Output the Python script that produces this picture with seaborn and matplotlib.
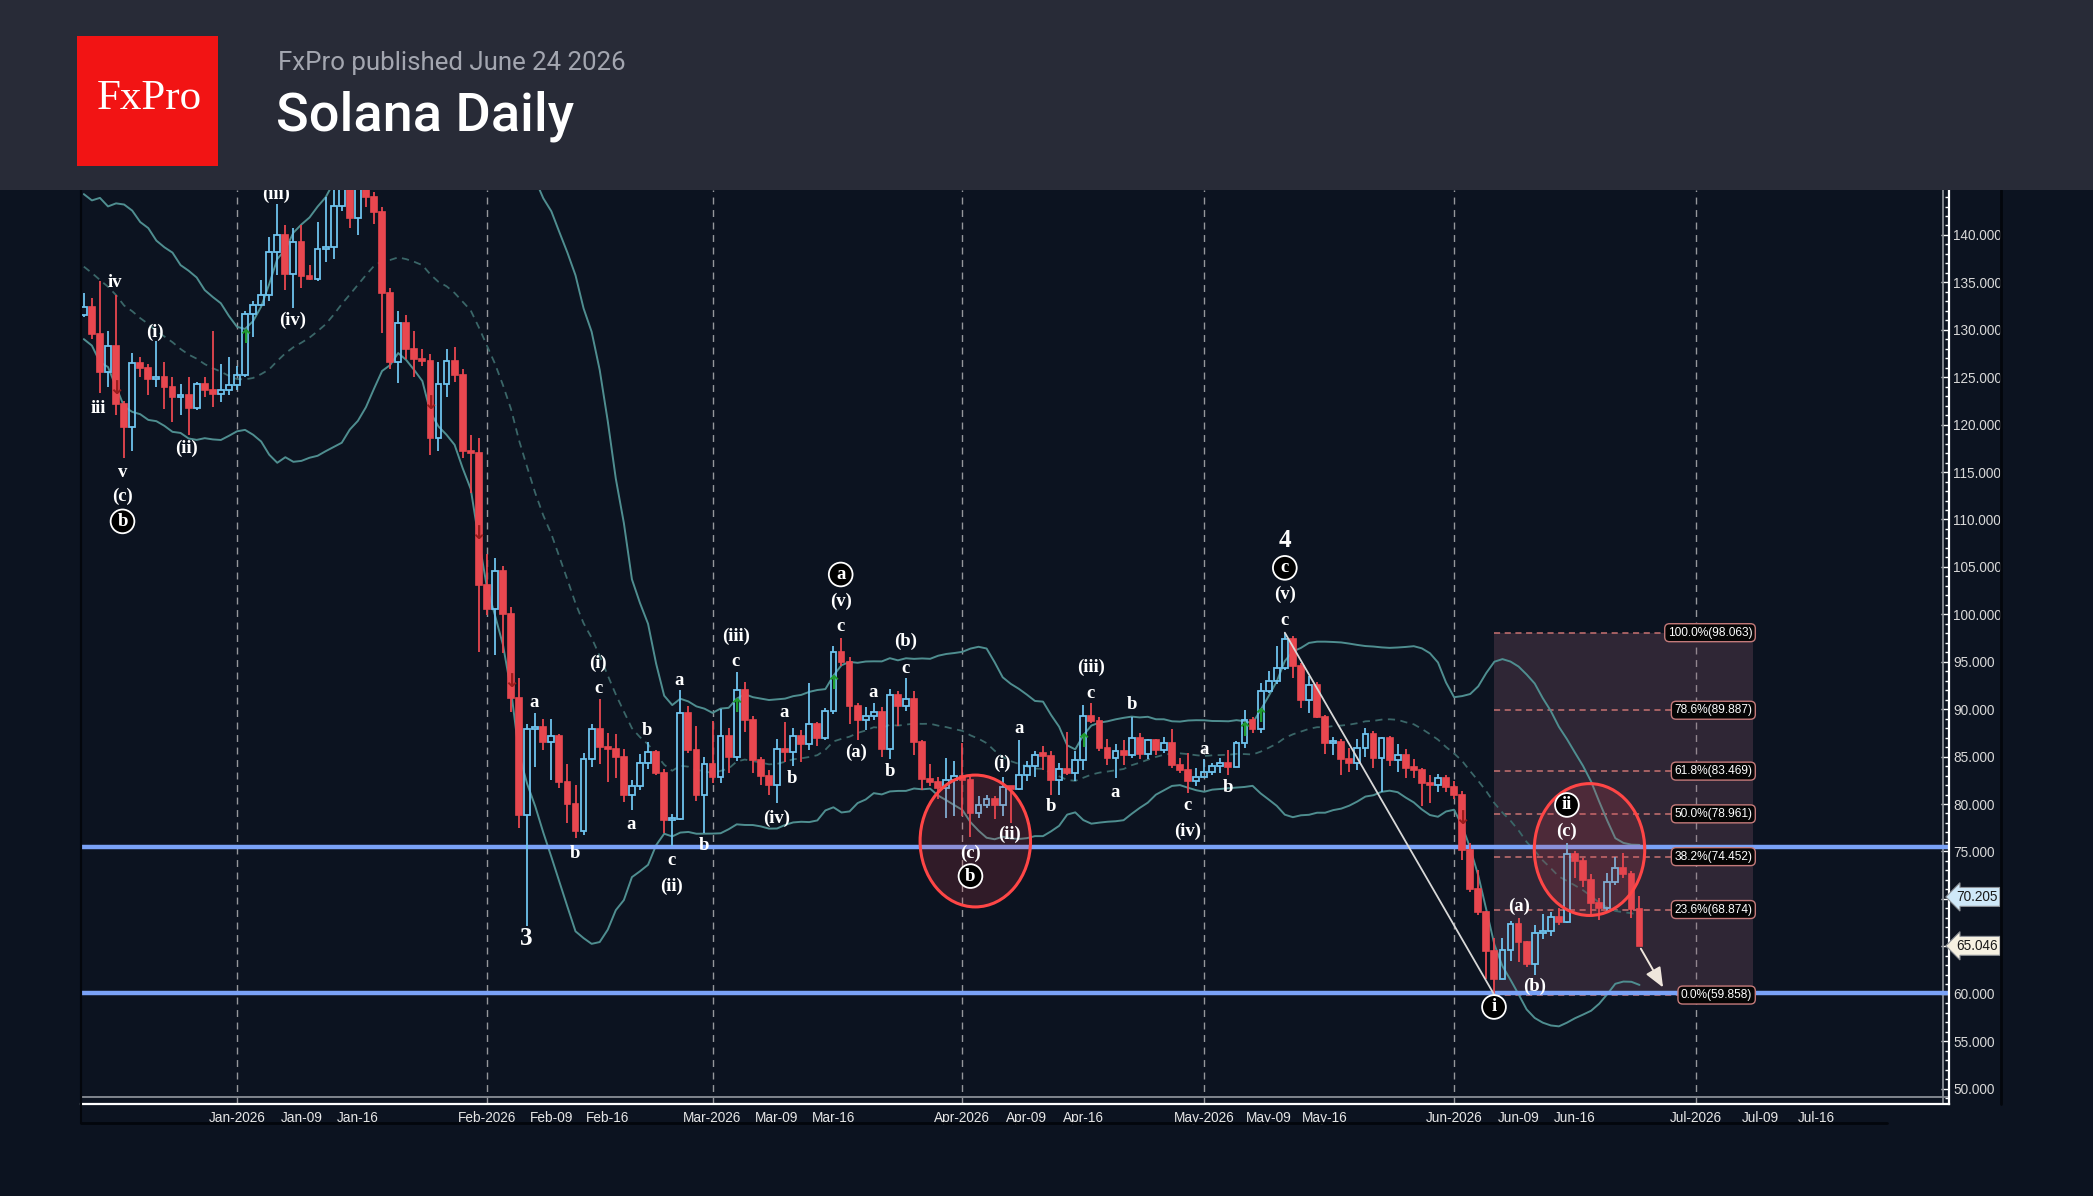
import numpy as np
import pandas as pd
import matplotlib
matplotlib.use("Agg")
import matplotlib.pyplot as plt
import matplotlib.dates as mdates
import matplotlib.transforms as mtransforms
from matplotlib.patches import Ellipse, Rectangle
from matplotlib.lines import Line2D
import seaborn as sns

# daily candles, 2025-12-13 .. 2026-06-24
first_day = "2025-12-13"

opens = [131.6, 132.4, 129.6, 125.5, 128.3, 122.2, 119.8, 126.5, 126.0, 124.8,
         125.0, 124.0, 122.9, 123.1, 121.8, 124.3, 123.6, 123.2, 123.7, 124.2,
         125.2, 131.7, 132.6, 133.7, 138.2, 140.0, 135.9, 139.3, 135.7, 135.4,
         138.5, 138.7, 143.1, 145.5, 141.8, 145.0, 144.0, 142.4, 133.9, 126.6,
         130.7, 128.0, 126.9, 126.7, 118.6, 124.3, 126.7, 125.2, 117.2, 117.0,
         103.1, 100.6, 104.6, 100.0, 91.2, 78.8, 87.9, 88.1, 86.5, 87.2,
         82.3, 80.0, 77.2, 84.7, 87.9, 86.0, 85.8, 85.0, 81.0, 81.9,
         84.3, 85.5, 83.3, 78.3, 78.4, 89.6, 85.7, 81.0, 84.2, 82.8,
         87.2, 85.0, 92.0, 88.9, 84.6, 83.0, 82.0, 85.8, 85.5, 87.2,
         86.3, 88.4, 87.0, 89.8, 96.0, 95.0, 90.3, 88.9, 89.3, 89.7,
         85.8, 91.5, 90.3, 91.1, 86.5, 82.6, 82.3, 81.7, 82.5, 83.0,
         82.5, 79.0, 79.9, 80.5, 79.9, 81.8, 81.6, 83.1, 84.0, 85.2,
         85.1, 82.5, 83.7, 83.3, 84.6, 89.3, 88.8, 85.9, 84.8, 85.6,
         85.2, 87.0, 85.3, 86.7, 85.7, 86.4, 84.1, 83.6, 82.4, 82.9,
         83.4, 84.0, 84.3, 83.9, 86.4, 88.9, 87.9, 91.9, 93.0, 94.3,
         97.4, 94.5, 91.0, 92.5, 89.2, 86.4, 86.5, 84.7, 84.3, 85.9,
         87.4, 84.9, 87.0, 84.6, 85.2, 83.8, 83.6, 82.2, 82.0, 82.7,
         81.8, 80.9, 75.2, 71.0, 68.6, 64.5, 61.6, 64.6, 67.3, 65.4,
         63.1, 66.4, 66.6, 68.1, 67.6, 74.7, 74.0, 72.0, 69.6, 69.0,
         71.8, 73.3, 72.6, 68.9]
highs = [133.9, 133.4, 135.1, 129.9, 133.7, 122.5, 127.6, 127.1, 126.4, 128.8,
         126.6, 125.0, 124.3, 125.0, 124.5, 125.0, 129.9, 126.4, 127.1, 126.2,
         132.0, 133.0, 135.3, 139.8, 143.3, 141.1, 140.7, 141.0, 136.8, 141.4,
         144.0, 145.0, 147.0, 147.0, 147.5, 146.0, 144.5, 142.9, 134.4, 132.0,
         131.6, 129.9, 128.0, 127.4, 126.6, 128.0, 128.2, 125.9, 118.9, 118.6,
         106.4, 105.9, 105.1, 100.8, 93.3, 88.4, 89.6, 89.0, 89.0, 87.4,
         84.2, 82.0, 85.4, 88.4, 91.1, 87.5, 87.4, 85.8, 82.5, 85.3,
         86.5, 85.7, 83.7, 78.9, 92.0, 90.3, 88.2, 85.0, 88.8, 90.0,
         88.0, 93.9, 92.9, 89.3, 85.0, 83.6, 86.9, 88.6, 88.0, 87.8,
         92.8, 88.6, 90.1, 96.7, 97.5, 95.5, 90.7, 90.2, 90.6, 90.2,
         92.1, 91.9, 93.3, 91.9, 86.8, 84.2, 82.9, 84.9, 84.5, 86.4,
         82.9, 80.8, 81.0, 80.8, 82.9, 81.9, 86.8, 84.5, 85.6, 86.1,
         85.6, 84.3, 87.6, 85.6, 90.4, 90.6, 89.2, 86.9, 86.3, 86.8,
         89.2, 87.5, 86.9, 86.9, 87.1, 87.9, 84.8, 85.4, 83.8, 84.7,
         84.3, 84.8, 85.7, 86.6, 89.9, 89.2, 92.8, 94.0, 96.7, 98.063,
         97.7, 94.9, 93.5, 92.9, 89.4, 87.1, 86.9, 85.9, 86.9, 88.0,
         87.7, 87.1, 87.2, 86.3, 85.8, 84.7, 83.8, 83.1, 83.2, 83.1,
         82.4, 81.4, 75.9, 73.0, 68.7, 65.9, 65.9, 67.7, 68.0, 65.6,
         67.2, 68.4, 68.6, 69.0, 75.9, 75.0, 74.3, 72.6, 70.1, 72.7,
         74.4, 74.8, 72.9, 70.3]
lows = [131.3, 129.0, 123.3, 124.0, 121.0, 116.5, 117.2, 125.0, 123.1, 124.0,
        121.7, 120.3, 121.0, 118.9, 121.5, 122.9, 121.9, 122.4, 123.1, 123.6,
        125.0, 129.2, 132.5, 133.0, 135.8, 134.2, 132.3, 134.4, 135.3, 135.1,
        137.2, 137.5, 142.5, 140.7, 140.0, 143.0, 141.2, 129.7, 125.9, 124.4,
        126.9, 125.0, 126.2, 116.8, 117.2, 122.9, 124.5, 116.5, 112.8, 96.0,
        99.9, 95.7, 95.9, 89.7, 77.5, 67.1, 83.9, 85.7, 82.5, 81.7,
        78.0, 76.4, 76.7, 83.9, 84.2, 82.3, 82.7, 80.2, 79.4, 81.5,
        83.7, 83.1, 76.9, 75.6, 78.3, 85.4, 80.3, 76.9, 82.2, 82.2,
        83.3, 84.5, 87.6, 83.3, 82.0, 80.9, 80.1, 84.4, 84.0, 84.4,
        85.7, 86.1, 86.8, 89.5, 94.6, 88.4, 86.8, 87.8, 88.9, 85.0,
        84.7, 88.2, 89.8, 85.2, 81.5, 81.9, 80.5, 78.5, 78.7, 78.7,
        76.5, 78.5, 79.6, 78.4, 78.7, 78.0, 81.5, 82.4, 82.9, 83.6,
        81.0, 81.0, 83.1, 82.4, 83.6, 88.5, 85.6, 84.1, 82.7, 84.1,
        84.8, 84.7, 84.7, 85.2, 85.4, 83.8, 83.3, 81.2, 81.9, 82.9,
        83.1, 83.3, 83.1, 83.9, 85.9, 87.5, 87.5, 91.7, 92.7, 94.1,
        93.3, 90.1, 89.6, 89.1, 85.3, 85.2, 83.1, 83.4, 83.6, 85.0,
        83.8, 81.3, 84.0, 83.4, 82.7, 82.7, 79.8, 80.1, 81.3, 81.3,
        80.5, 74.1, 70.7, 68.3, 61.6, 59.858, 61.5, 63.4, 63.3, 62.8,
        62.0, 65.8, 66.1, 67.2, 67.5, 72.2, 71.2, 68.2, 67.8, 68.7,
        71.5, 72.2, 68.0, 65.0]
closes = [132.4, 129.6, 125.5, 128.3, 122.2, 119.8, 126.5, 126.0, 124.8, 125.0,
          124.0, 122.9, 123.1, 121.8, 124.3, 123.6, 123.2, 123.7, 124.2, 125.2,
          131.7, 132.6, 133.7, 138.2, 140.0, 135.9, 139.3, 135.7, 135.4, 138.5,
          138.7, 143.1, 145.5, 141.8, 145.0, 144.0, 142.4, 133.9, 126.6, 130.7,
          128.0, 126.9, 126.7, 118.6, 124.3, 126.7, 125.2, 117.2, 117.0, 103.1,
          100.6, 104.6, 100.0, 91.2, 78.8, 87.9, 88.1, 86.5, 87.2, 82.3,
          80.0, 77.2, 84.7, 87.9, 86.0, 85.8, 85.0, 81.0, 81.9, 84.3,
          85.5, 83.3, 78.3, 78.4, 89.6, 85.7, 81.0, 84.2, 82.8, 87.2,
          85.0, 92.0, 88.9, 84.6, 83.0, 82.0, 85.8, 85.5, 87.2, 86.3,
          88.4, 87.0, 89.8, 96.0, 95.0, 90.3, 88.9, 89.3, 89.7, 85.8,
          91.5, 90.3, 91.1, 86.5, 82.6, 82.3, 81.7, 82.5, 83.0, 82.5,
          79.0, 79.9, 80.5, 79.9, 81.8, 81.6, 83.1, 84.0, 85.2, 85.1,
          82.5, 83.7, 83.3, 84.6, 89.3, 88.8, 85.9, 84.8, 85.6, 85.2,
          87.0, 85.3, 86.7, 85.7, 86.4, 84.1, 83.6, 82.4, 82.9, 83.4,
          84.0, 84.3, 83.9, 86.4, 88.9, 87.9, 91.9, 93.0, 94.3, 97.4,
          94.5, 91.0, 92.5, 89.2, 86.4, 86.5, 84.7, 84.3, 85.9, 87.4,
          84.9, 87.0, 84.6, 85.2, 83.8, 83.6, 82.2, 82.0, 82.7, 81.8,
          80.9, 75.2, 71.0, 68.6, 64.5, 61.6, 64.6, 67.3, 65.4, 63.1,
          66.4, 66.6, 68.1, 67.6, 74.7, 74.0, 72.0, 69.6, 69.0, 71.8,
          73.3, 72.6, 68.9, 65.046]

# closes of the 20 days before the first visible candle, only used to seed the bands
warmup_closes = [141.5, 143.0, 140.2, 142.6, 139.8, 141.9, 138.4, 140.6, 137.2, 139.5,
                 136.0, 134.8, 137.4, 133.6, 132.9, 135.1, 131.8, 130.9, 133.2, 131.9]

support_levels = [75.5, 60.05]
fib_names = ["100.0%", "78.6%", "61.8%", "50.0%", "38.2%", "23.6%", "0.0%"]
fib_levels = [98.063, 89.887, 83.469, 78.961, 74.452, 68.874, 59.858]
price_marks = [70.205, 65.046]

# wave count: (text, day from first candle, price, kind)
wave_labels = [
    ("iii", 1.8, 121.7, ""), ("iv", 3.8, 135.0, ""), ("v", 4.8, 115.0, ""),
    ("(c)", 4.8, 112.4, ""), ("b", 4.8, 109.8, "o"), ("(i)", 8.8, 129.7, ""),
    ("(ii)", 12.8, 117.5, ""), ("(iii)", 23.8, 144.3, ""), ("(iv)", 25.9, 131.0, ""),
    ("3", 54.9, 65.8, "big"), ("a", 55.9, 90.7, ""), ("b", 60.9, 74.8, ""),
    ("c", 63.8, 92.2, ""), ("(i)", 63.8, 94.8, ""), ("a", 67.9, 77.8, ""),
    ("b", 69.9, 87.7, ""), ("a", 73.9, 93.0, ""), ("c", 72.9, 74.0, ""),
    ("(ii)", 72.9, 71.3, ""), ("b", 76.9, 75.6, ""), ("c", 80.9, 95.0, ""),
    ("(iii)", 80.9, 97.7, ""), ("a", 86.9, 89.7, ""), ("b", 87.9, 82.7, ""),
    ("(iv)", 85.9, 78.5, ""), ("c", 93.9, 98.7, ""), ("(v)", 93.9, 101.4, ""),
    ("a", 93.9, 104.2, "o"), ("(a)", 95.8, 85.4, ""), ("a", 97.9, 91.75, ""),
    ("b", 100.0, 83.45, ""), ("c", 102.0, 94.3, ""), ("(b)", 102.0, 97.1, ""),
    ("(c)", 110.0, 74.8, ""), ("b", 110.0, 72.4, "o"), ("(i)", 113.9, 84.3, ""),
    ("(ii)", 114.9, 76.8, ""), ("a", 116.0, 88.0, ""), ("b", 120.0, 79.7, ""),
    ("c", 124.9, 91.7, ""), ("(iii)", 124.9, 94.4, ""), ("a", 128.0, 81.2, ""),
    ("b", 130.0, 90.5, ""), ("c", 136.9, 79.8, ""), ("(iv)", 136.9, 77.1, ""),
    ("a", 139.0, 85.8, ""), ("b", 142.0, 81.7, ""), ("c", 149.0, 99.4, ""),
    ("(v)", 149.0, 102.1, ""), ("c", 149.0, 104.9, "o"), ("4", 149.0, 107.8, "big"),
    ("i", 174.95, 58.6, "o"), ("(a)", 178.0, 69.2, ""), ("(b)", 180.0, 60.8, ""),
    ("(c)", 184.0, 77.1, ""), ("ii", 184.0, 79.9, "o"),
]
up_signals = [(20, 129.2), (81, 90.3), (93, 92.7), (124, 86.6), (144, 87.8), (146, 89.2)]
down_signals = [(4, 123.8), (43, 122.2), (49, 108.5), (53, 92.9), (171, 78.5)]

bg = "#0c1320"
up_col = "#6ec3ee"
dn_col = "#e8474f"
band_col = "#4f8e90"

sns.set_style("dark", rc={"axes.facecolor": bg, "figure.facecolor": bg})
plt.rcParams["font.family"] = ["Liberation Sans Narrow", "Liberation Sans", "DejaVu Sans"]

W, H = 2093, 1196
fig = plt.figure(figsize=(W / 100, H / 100), dpi=100)
ax = fig.add_axes([81 / W, 92 / H, 1868 / W, 914 / H])
ax.set_facecolor(bg)
ax.grid(False)

dates = pd.date_range(first_day, periods=len(closes), freq="D")
xnum = mdates.date2num(dates)
x0 = xnum[0]

# bollinger bands 20, 2
allc = pd.Series(warmup_closes + closes)
roll = allc.rolling(20)
n0 = len(warmup_closes)
mid = roll.mean().iloc[n0:].to_numpy()
sd = roll.std(ddof=0).iloc[n0:].to_numpy()
bands = pd.DataFrame({"date": dates, "mid": mid, "upper": mid + 2 * sd, "lower": mid - 2 * sd})
sns.lineplot(data=bands, x="date", y="upper", ax=ax, color=band_col, lw=1.4, zorder=2)
sns.lineplot(data=bands, x="date", y="lower", ax=ax, color=band_col, lw=1.4, zorder=2)
sns.lineplot(data=bands, x="date", y="mid", ax=ax, color="#3a6668", lw=1.3, ls=(0, (4, 3)), zorder=2)

# month grid
for m in ["2026-01-01", "2026-02-01", "2026-03-01", "2026-04-01", "2026-05-01", "2026-06-01", "2026-07-01"]:
    ax.axvline(mdates.date2num(pd.Timestamp(m)), color="#d0d0d0", lw=1, ls=(0, (5, 4)), alpha=0.7, zorder=1)

# fibonacci box
ax.add_patch(Rectangle((x0 + 175.0, fib_levels[-1]), 32.1, fib_levels[0] - fib_levels[-1],
                       fc="#8c5a6e", alpha=0.28, lw=0, zorder=1))
for name, lv in zip(fib_names, fib_levels):
    ax.plot([x0 + 175.0, x0 + 207.1], [lv, lv], color="#c87272", lw=1.1, ls=(0, (4, 3)), zorder=1.5)
    ax.text(x0 + 207.0, lv, f"{name}({lv:.3f})", ha="right", va="center", color="white", fontsize=8.6,
            zorder=8, bbox=dict(boxstyle="round,pad=0.25,rounding_size=0.4", fc="#050505", ec="#c47a7a", lw=1))

# horizontal levels
for lv in support_levels:
    ax.axhline(lv, color="#7aa2f7", lw=3.2, zorder=2.2)

# candles
o = np.array(opens)
c = np.array(closes)
h = np.array(highs)
l = np.array(lows)
up = c >= o
top = np.maximum(o, c)
bot = np.minimum(o, c)
cols = np.where(up, up_col, dn_col)
ax.vlines(xnum, top, h, colors=cols, lw=1.3, zorder=3)
ax.vlines(xnum, l, bot, colors=cols, lw=1.3, zorder=3)
body = np.maximum(top - bot, 0.25)
ax.bar(xnum[~up], body[~up], bottom=bot[~up], width=0.72, color=dn_col, edgecolor=dn_col, lw=1.2, zorder=4)
ax.bar(xnum[up], body[up], bottom=bot[up], width=0.72, color="none", edgecolor=up_col, lw=1.3, zorder=4)

# impulse line and projection arrow
ax.plot([x0 + 149, x0 + 175], [98.063, 59.858], color="#d8d8d8", lw=1.3, zorder=4.5)
ax.annotate("", xy=(x0 + 196.1, 60.4), xytext=(x0 + 193.0, 65.0),
            arrowprops=dict(arrowstyle="-|>,head_width=0.5,head_length=1.2", color="#efe6dc", lw=1.4), zorder=6)

# signal arrows
for d, v in up_signals:
    ax.text(x0 + d, v, "\u2191", color="#1f9a2e", fontsize=14, fontweight="bold", ha="center", va="center",
            family="DejaVu Sans", zorder=5)
for d, v in down_signals:
    ax.text(x0 + d, v, "\u2193", color="#9a1c1c", fontsize=14, fontweight="bold", ha="center", va="center",
            family="DejaVu Sans", zorder=5)

# highlight circles
for cx, cy in [(110.6, 76.1), (186.8, 75.2)]:
    ax.add_patch(Ellipse((x0 + cx, cy), 13.7, 13.9, fc=(0.85, 0.25, 0.3, 0.18), ec="#ff4646", lw=2.2, zorder=6))

# wave labels
serif = ["Liberation Serif", "DejaVu Serif"]
for s, d, v, kind in wave_labels:
    kw = dict(ha="center", va="center", color="white", family=serif, fontweight="bold", zorder=7, clip_on=True)
    if kind == "big":
        ax.text(x0 + d, v, s, fontsize=18, **kw)
    elif kind == "o":
        ax.text(x0 + d, v, s, fontsize=13.5,
                bbox=dict(boxstyle="circle,pad=0.18", fc="black", ec="white", lw=1.3), **kw)
    else:
        ax.text(x0 + d, v, s, fontsize=13.5, **kw)

# axes
ax.set_xlim(x0 - 0.35, x0 + 231.4)
ax.set_ylim(48.37, 144.74)
ax.axhline(49.06, color="#8a8f96", lw=1.3, zorder=2)
ax.axvline(x0 + 230.66, color="#8a8f96", lw=1.3, zorder=2)
ax.set_xlabel("")
ax.set_ylabel("")

ax.yaxis.tick_right()
ax.set_yticks(np.arange(50, 145, 5))
ax.set_yticklabels([f"{v:.3f}" for v in np.arange(50, 145, 5)])
ax.set_yticks(np.arange(49, 145, 1), minor=True)
ax.tick_params(axis="y", which="major", direction="in", length=6, width=1, color="white",
               labelcolor="#d9d9d9", labelsize=9.8, pad=3, right=True, left=False)
ax.tick_params(axis="y", which="minor", direction="in", length=3, width=1, color="white", right=True, left=False)

tick_days = ["2025-12-16", "2026-01-01", "2026-01-09", "2026-01-16", "2026-02-01", "2026-02-09", "2026-02-16",
             "2026-03-01", "2026-03-09", "2026-03-16", "2026-04-01", "2026-04-09", "2026-04-16",
             "2026-05-01", "2026-05-09", "2026-05-16", "2026-06-01", "2026-06-09", "2026-06-16",
             "2026-07-01", "2026-07-09", "2026-07-16"]
tick_ts = pd.to_datetime(tick_days)
tick_labels = []
for t in tick_ts:
    if t.month == 12:
        tick_labels.append("")
    elif t.day == 1:
        tick_labels.append(t.strftime("%b-%Y"))
    else:
        tick_labels.append(t.strftime("%b-%d"))
ax.set_xticks(mdates.date2num(tick_ts))
ax.set_xticklabels(tick_labels)
ax.xaxis.set_minor_locator(matplotlib.ticker.NullLocator())
ax.tick_params(axis="x", direction="in", length=6, width=1, color="white", labelcolor="#e6e6e6",
               labelsize=9.8, pad=5)

ax.spines["top"].set_visible(False)
ax.spines["left"].set_color("#03060c")
ax.spines["left"].set_linewidth(1.5)
ax.spines["bottom"].set_color("white")
ax.spines["bottom"].set_linewidth(1.6)
ax.spines["right"].set_color("white")
ax.spines["right"].set_linewidth(1.6)

# last price marks on the scale
blend = mtransforms.blended_transform_factory(ax.transAxes, ax.transData)
for v, fc in zip(price_marks, ["#cfe8f8", "#f6f1e2"]):
    ax.annotate(f"{v:.3f}", xy=(1.0, v), xycoords=blend, xytext=(5, 0), textcoords="offset points",
                ha="left", va="center", fontsize=9.8, color="#1a1a1a", annotation_clip=False, zorder=10,
                bbox=dict(boxstyle="larrow,pad=0.18", fc=fc, ec="#8c9096", lw=0.8))

# frame lines outside the axes
fig.add_artist(Line2D([81 / W, 1887 / W], [1 - 1123 / H, 1 - 1123 / H], color="#03060c", lw=2))
fig.add_artist(Line2D([81 / W, 81 / W], [1 - 1123 / H, 1 - 190 / H], color="#03060c", lw=1.5))
fig.add_artist(Line2D([2001 / W, 2001 / W], [1 - 1104 / H, 1 - 190 / H], color="#03060c", lw=2))

# header
fig.add_artist(Rectangle((0, 1 - 190 / H), 1, 190 / H, transform=fig.transFigure, fc="#282b37", lw=0, zorder=20))
fig.add_artist(Rectangle((77 / W, 1 - 166 / H), 141 / W, 130 / H, transform=fig.transFigure,
                         fc="#f21414", lw=0, zorder=21))
fig.text(149 / W, 1 - 99 / H, "FxPro", ha="center", va="center", color="white", fontsize=31,
         family=serif, zorder=22)
fig.text(278 / W, 1 - 63 / H, "FxPro published June 24 2026", ha="left", va="center", color="#a3a6b0",
         fontsize=18.6, family=["Roboto", "DejaVu Sans"], zorder=22)
fig.text(276 / W, 1 - 116 / H, "Solana Daily", ha="left", va="center", color="white", fontsize=39,
         fontweight="medium", family=["Roboto", "DejaVu Sans"], zorder=22)

fig.savefig("out.png", dpi=100, facecolor=bg)
